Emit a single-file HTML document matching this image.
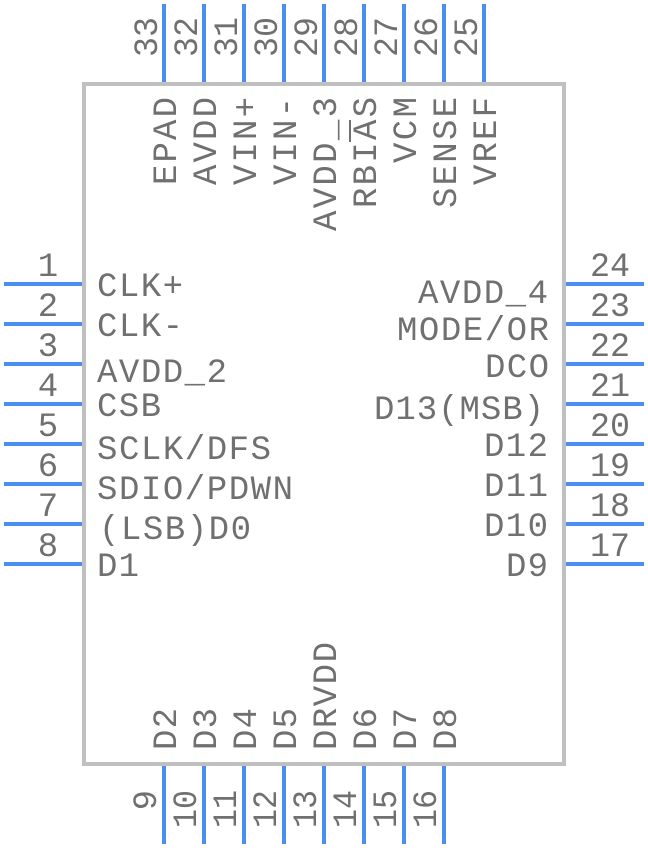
<!DOCTYPE html>
<html><head><meta charset="utf-8"><style>
html,body{margin:0;padding:0;background:#fff;}
svg{display:block;}
text{font-family:"Liberation Mono",monospace;font-size:34px;fill:#707070;}
</style></head><body>
<svg width="648" height="848" viewBox="0 0 648 848" xmlns="http://www.w3.org/2000/svg">
<g stroke="#4a8ff0" stroke-width="4">
<line x1="4" y1="284" x2="84" y2="284"/><line x1="4" y1="324" x2="84" y2="324"/>
<line x1="4" y1="364" x2="84" y2="364"/><line x1="4" y1="404" x2="84" y2="404"/>
<line x1="4" y1="444" x2="84" y2="444"/><line x1="4" y1="484" x2="84" y2="484"/>
<line x1="4" y1="524" x2="84" y2="524"/><line x1="4" y1="564" x2="84" y2="564"/>
<line x1="564" y1="284" x2="644" y2="284"/><line x1="564" y1="324" x2="644" y2="324"/>
<line x1="564" y1="364" x2="644" y2="364"/><line x1="564" y1="404" x2="644" y2="404"/>
<line x1="564" y1="444" x2="644" y2="444"/><line x1="564" y1="484" x2="644" y2="484"/>
<line x1="564" y1="524" x2="644" y2="524"/><line x1="564" y1="564" x2="644" y2="564"/>
<line x1="164" y1="4" x2="164" y2="84"/><line x1="204" y1="4" x2="204" y2="84"/>
<line x1="244" y1="4" x2="244" y2="84"/><line x1="284" y1="4" x2="284" y2="84"/>
<line x1="324" y1="4" x2="324" y2="84"/><line x1="364" y1="4" x2="364" y2="84"/>
<line x1="404" y1="4" x2="404" y2="84"/><line x1="444" y1="4" x2="444" y2="84"/>
<line x1="484" y1="4" x2="484" y2="84"/>
<line x1="164" y1="764" x2="164" y2="844"/><line x1="204" y1="764" x2="204" y2="844"/>
<line x1="244" y1="764" x2="244" y2="844"/><line x1="284" y1="764" x2="284" y2="844"/>
<line x1="324" y1="764" x2="324" y2="844"/><line x1="364" y1="764" x2="364" y2="844"/>
<line x1="404" y1="764" x2="404" y2="844"/><line x1="444" y1="764" x2="444" y2="844"/>
</g>
<rect x="84" y="84" width="480" height="680" fill="none" stroke="#c0c0c0" stroke-width="4"/>
<line x1="350" y1="120" x2="350" y2="142" stroke="#707070" stroke-width="2"/>

<g text-anchor="middle">
<text x="48" y="276">1</text><text x="48" y="316">2</text><text x="48" y="356">3</text><text x="48" y="396">4</text>
<text x="48" y="436">5</text><text x="48" y="476">6</text><text x="48" y="516">7</text><text x="48" y="556">8</text>
<text x="610" y="276" textLength="40" lengthAdjust="spacingAndGlyphs">24</text>
<text x="610" y="316" textLength="40" lengthAdjust="spacingAndGlyphs">23</text>
<text x="610" y="356" textLength="40" lengthAdjust="spacingAndGlyphs">22</text>
<text x="610" y="396" textLength="40" lengthAdjust="spacingAndGlyphs">21</text>
<text x="610" y="436" textLength="40" lengthAdjust="spacingAndGlyphs">20</text>
<text x="610" y="476" textLength="40" lengthAdjust="spacingAndGlyphs">19</text>
<text x="610" y="516" textLength="40" lengthAdjust="spacingAndGlyphs">18</text>
<text x="610" y="556" textLength="40" lengthAdjust="spacingAndGlyphs">17</text>
</g>

<text x="97" y="296" textLength="86" lengthAdjust="spacing">CLK+</text>
<text x="97" y="336" textLength="86" lengthAdjust="spacing">CLK-</text>
<text x="97" y="382" textLength="130" lengthAdjust="spacing">AVDD_2</text>
<text x="97" y="416" textLength="64" lengthAdjust="spacing">CSB</text>
<text x="97" y="459" textLength="174" lengthAdjust="spacing">SCLK/DFS</text>
<text x="97" y="499" textLength="196" lengthAdjust="spacing">SDIO/PDWN</text>
<text x="99" y="539" textLength="152" lengthAdjust="spacing">(LSB)D0</text>
<text x="97" y="576" textLength="42" lengthAdjust="spacing">D1</text>

<g text-anchor="end">
<text x="548" y="303" textLength="130" lengthAdjust="spacing">AVDD_4</text>
<text x="549" y="340" textLength="152" lengthAdjust="spacing">MODE/OR</text>
<text x="549" y="377" textLength="64" lengthAdjust="spacing">DCO</text>
<text x="544" y="419" textLength="170" lengthAdjust="spacing">D13(MSB)</text>
<text x="548" y="456" textLength="64" lengthAdjust="spacing">D12</text>
<text x="548" y="496" textLength="64" lengthAdjust="spacing">D11</text>
<text x="548" y="536" textLength="64" lengthAdjust="spacing">D10</text>
<text x="548" y="576" textLength="42" lengthAdjust="spacing">D9</text>
</g>

<g text-anchor="end">
<text transform="translate(157,17) rotate(-90)" textLength="40" lengthAdjust="spacingAndGlyphs">33</text>
<text transform="translate(197,17) rotate(-90)" textLength="40" lengthAdjust="spacingAndGlyphs">32</text>
<text transform="translate(237,17) rotate(-90)" textLength="40" lengthAdjust="spacingAndGlyphs">31</text>
<text transform="translate(277,17) rotate(-90)" textLength="40" lengthAdjust="spacingAndGlyphs">30</text>
<text transform="translate(317,17) rotate(-90)" textLength="40" lengthAdjust="spacingAndGlyphs">29</text>
<text transform="translate(357,17) rotate(-90)" textLength="40" lengthAdjust="spacingAndGlyphs">28</text>
<text transform="translate(397,17) rotate(-90)" textLength="40" lengthAdjust="spacingAndGlyphs">27</text>
<text transform="translate(437,17) rotate(-90)" textLength="40" lengthAdjust="spacingAndGlyphs">26</text>
<text transform="translate(477,17) rotate(-90)" textLength="40" lengthAdjust="spacingAndGlyphs">25</text>
<text transform="translate(176,97) rotate(-90)" textLength="88" lengthAdjust="spacing">EPAD</text>
<text transform="translate(216,97) rotate(-90)" textLength="88" lengthAdjust="spacing">AVDD</text>
<text transform="translate(256,97) rotate(-90)" textLength="88" lengthAdjust="spacing">VIN+</text>
<text transform="translate(296,97) rotate(-90)" textLength="88" lengthAdjust="spacing">VIN-</text>
<text transform="translate(336,97) rotate(-90)" textLength="134" lengthAdjust="spacing">AVDD_3</text>
<text transform="translate(376,97) rotate(-90)" textLength="111" lengthAdjust="spacing">RBIAS</text>
<text transform="translate(416,97) rotate(-90)" textLength="66" lengthAdjust="spacing">VCM</text>
<text transform="translate(456,97) rotate(-90)" textLength="111" lengthAdjust="spacing">SENSE</text>
<text transform="translate(496,97) rotate(-90)" textLength="88" lengthAdjust="spacing">VREF</text>
<text transform="translate(156,790) rotate(-90)">9</text>
<text transform="translate(196,790) rotate(-90)" textLength="38" lengthAdjust="spacingAndGlyphs">10</text>
<text transform="translate(236,790) rotate(-90)" textLength="38" lengthAdjust="spacingAndGlyphs">11</text>
<text transform="translate(276,790) rotate(-90)" textLength="38" lengthAdjust="spacingAndGlyphs">12</text>
<text transform="translate(316,790) rotate(-90)" textLength="38" lengthAdjust="spacingAndGlyphs">13</text>
<text transform="translate(356,790) rotate(-90)" textLength="38" lengthAdjust="spacingAndGlyphs">14</text>
<text transform="translate(396,790) rotate(-90)" textLength="38" lengthAdjust="spacingAndGlyphs">15</text>
<text transform="translate(436,790) rotate(-90)" textLength="38" lengthAdjust="spacingAndGlyphs">16</text>
</g>
<text transform="translate(176,750) rotate(-90)" textLength="42" lengthAdjust="spacing">D2</text>
<text transform="translate(216,750) rotate(-90)" textLength="42" lengthAdjust="spacing">D3</text>
<text transform="translate(256,750) rotate(-90)" textLength="42" lengthAdjust="spacing">D4</text>
<text transform="translate(296,750) rotate(-90)" textLength="42" lengthAdjust="spacing">D5</text>
<text transform="translate(336,750) rotate(-90)" textLength="108" lengthAdjust="spacing">DRVDD</text>
<text transform="translate(376,750) rotate(-90)" textLength="42" lengthAdjust="spacing">D6</text>
<text transform="translate(416,750) rotate(-90)" textLength="42" lengthAdjust="spacing">D7</text>
<text transform="translate(456,750) rotate(-90)" textLength="42" lengthAdjust="spacing">D8</text>
</svg>
</body></html>
